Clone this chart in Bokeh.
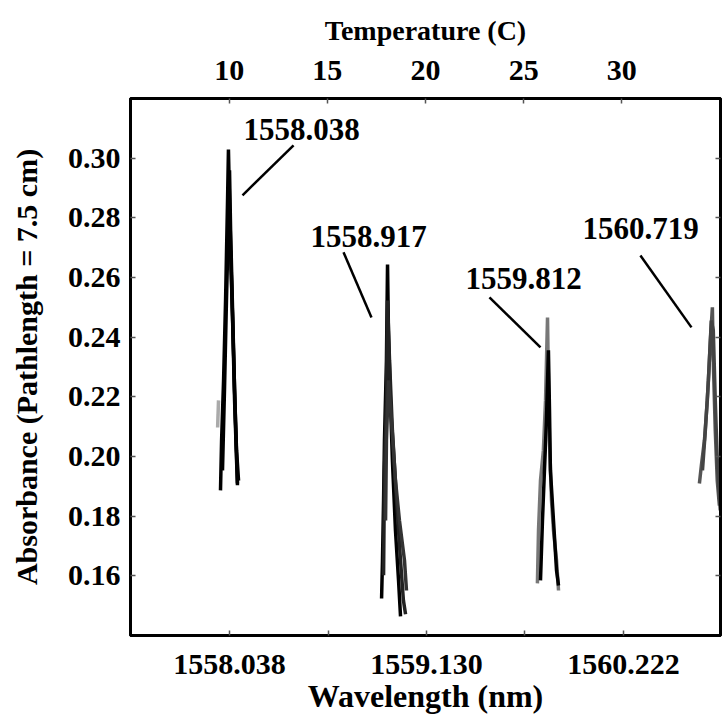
from bokeh.plotting import figure
from bokeh.models import Range1d, LinearAxis, FixedTicker, PrintfTickFormatter, ColumnDataSource
from bokeh.core.properties import value
from bokeh.embed import file_html
from bokeh.resources import INLINE

# ---------------- axis ticks ----------------
wl_ticks = [1558.038, 1559.130, 1560.222]
wl_minor_ticks = [1558.584, 1559.676]
temp_ticks = [10, 15, 20, 25, 30]
abs_ticks = [0.16, 0.18, 0.20, 0.22, 0.24, 0.26, 0.28, 0.30]

# ---------------- traces (wavelength nm, absorbance) ----------------
p1a_wl = [1557.988, 1557.994, 1558.005, 1558.016, 1558.027, 1558.032, 1558.038, 1558.049, 1558.060, 1558.071, 1558.082]
p1a_ab = [0.1886, 0.2054, 0.2255, 0.2523, 0.2859, 0.3030, 0.2859, 0.2591, 0.2356, 0.2121, 0.1909]
p1b_wl = [1557.999, 1558.010, 1558.021, 1558.032, 1558.038, 1558.044, 1558.055, 1558.066, 1558.077, 1558.088]
p1b_ab = [0.1953, 0.2221, 0.2523, 0.2792, 0.2960, 0.2758, 0.2490, 0.2221, 0.2020, 0.1919]
p1c_wl = [1558.044, 1558.055, 1558.066, 1558.077, 1558.082]
p1c_ab = [0.2691, 0.2456, 0.2188, 0.1987, 0.1903]
p1d_wl = [1557.972, 1557.977]
p1d_ab = [0.2097, 0.2188]

p2a_wl = [1558.881, 1558.886, 1558.892, 1558.897, 1558.908, 1558.914, 1558.919, 1558.930, 1558.941, 1558.958, 1558.975, 1558.986]
p2a_ab = [0.1523, 0.1651, 0.1852, 0.2054, 0.2322, 0.2644, 0.2423, 0.2188, 0.1987, 0.1752, 0.1584, 0.1463]
p2b_wl = [1558.892, 1558.897, 1558.908, 1558.914, 1558.925, 1558.941, 1558.964, 1558.986, 1559.002, 1559.014]
p2b_ab = [0.1601, 0.1953, 0.2188, 0.2523, 0.2322, 0.2087, 0.1852, 0.1651, 0.1517, 0.1470]
p2c_wl = [1558.903, 1558.908, 1558.919, 1558.936, 1558.958, 1558.980, 1559.008, 1559.019]
p2c_ab = [0.1785, 0.2054, 0.2255, 0.2121, 0.1919, 0.1785, 0.1651, 0.1550]

p3a_wl = [1559.745, 1559.751, 1559.762, 1559.778, 1559.790, 1559.801, 1559.806, 1559.812, 1559.823, 1559.834, 1559.851, 1559.862]
p3a_ab = [0.1574, 0.1752, 0.1919, 0.2020, 0.2188, 0.2466, 0.2255, 0.2054, 0.1852, 0.1752, 0.1651, 0.1550]
p3b_wl = [1559.762, 1559.773, 1559.784, 1559.795, 1559.806, 1559.812, 1559.817, 1559.834, 1559.851, 1559.862]
p3b_ab = [0.1584, 0.1785, 0.1953, 0.2121, 0.2356, 0.2154, 0.1953, 0.1785, 0.1617, 0.1567]

p4a_wl = [1560.643, 1560.654, 1560.671, 1560.687, 1560.704, 1560.715, 1560.720, 1560.731, 1560.742, 1560.754]
p4a_ab = [0.1909, 0.1970, 0.2054, 0.2188, 0.2389, 0.2500, 0.2322, 0.2087, 0.1919, 0.1835]
p4b_wl = [1560.660, 1560.676, 1560.693, 1560.709, 1560.720, 1560.731, 1560.742, 1560.759]
p4b_ab = [0.1953, 0.2087, 0.2255, 0.2456, 0.2423, 0.2188, 0.1987, 0.1819]

trace_xs = [p1a_wl, p1b_wl, p1c_wl, p1d_wl, p2a_wl, p2b_wl, p2c_wl, p3a_wl, p3b_wl, p4a_wl, p4b_wl]
trace_ys = [p1a_ab, p1b_ab, p1c_ab, p1d_ab, p2a_ab, p2b_ab, p2c_ab, p3a_ab, p3b_ab, p4a_ab, p4b_ab]
trace_colors = ["black", "black", "black", "#aaaaaa", "black", "#222222", "#333333",
                "#777777", "black", "#555555", "#444444"]

# ---------------- peak annotations ----------------
peak_labels = ["1558.038", "1558.917", "1559.812", "1560.719"]
label_wl = [1558.116, 1558.487, 1559.346, 1559.995]
label_ab = [0.3097, 0.2738, 0.2597, 0.2765]
leader_wl0 = [1558.393, 1558.670, 1559.479, 1560.316]
leader_ab0 = [0.3044, 0.2685, 0.2534, 0.2674]
leader_wl1 = [1558.110, 1558.825, 1559.762, 1560.599]
leader_ab1 = [0.2876, 0.2466, 0.2366, 0.2433]

FONT = "Liberation Serif"

p = figure(width=722, height=719,
           x_range=Range1d(1557.489, 1560.760),
           y_range=Range1d(0.1399, 0.3201),
           output_backend="svg", toolbar_location=None,
           min_border_left=130, min_border_right=2,
           min_border_top=98, min_border_bottom=84)
p.extra_x_ranges = {"temp": Range1d(4.97, 35.03)}
p.xgrid.visible = False
p.ygrid.visible = False
p.background_fill_color = "white"
p.border_fill_color = "white"
p.outline_line_color = "black"
p.outline_line_width = 3
p.outline_line_alpha = 1.0

def style_axis(ax, label_size="30px"):
    ax.axis_line_color = "black"
    ax.axis_line_width = 3
    ax.major_tick_in = 5
    ax.major_tick_out = 0
    ax.minor_tick_in = 5
    ax.minor_tick_out = 0
    ax.major_tick_line_color = "#555555"
    ax.minor_tick_line_color = "#555555"
    ax.major_tick_line_width = 1.5
    ax.minor_tick_line_width = 1.5
    ax.major_label_text_font = FONT
    ax.major_label_text_font_style = "bold"
    ax.major_label_text_font_size = label_size
    ax.major_label_text_color = "black"
    ax.axis_label_text_font = FONT
    ax.axis_label_text_font_style = "bold"
    ax.axis_label_text_color = "black"

# bottom axis: wavelength
xa = p.xaxis[0]
style_axis(xa)
xa.ticker = FixedTicker(ticks=wl_ticks, minor_ticks=wl_minor_ticks)
xa.formatter = PrintfTickFormatter(format="%.3f")
xa.axis_label = "Wavelength (nm)"
xa.axis_label_text_font_size = "32px"
xa.major_label_standoff = 19
xa.axis_label_standoff = 1

# left axis: absorbance
ya = p.yaxis[0]
style_axis(ya)
ya.ticker = FixedTicker(ticks=abs_ticks, minor_ticks=[])
ya.formatter = PrintfTickFormatter(format="%.2f")
ya.axis_label = "Absorbance (Pathlength = 7.5 cm)"
ya.axis_label_text_font_size = "30px"
ya.major_label_standoff = 10
ya.axis_label_standoff = 22

# top axis: temperature
ta = LinearAxis(x_range_name="temp")
style_axis(ta)
ta.ticker = FixedTicker(ticks=temp_ticks, minor_ticks=[])
ta.axis_label = "Temperature (C)"
ta.axis_label_text_font_size = "28px"
ta.major_label_standoff = 19
ta.axis_label_standoff = 12
p.add_layout(ta, "above")

# right axis: ticks only
ra = LinearAxis()
style_axis(ra)
ra.ticker = FixedTicker(ticks=abs_ticks, minor_ticks=[])
ra.major_label_overrides = {t: "" for t in abs_ticks}
ra.major_label_standoff = 0
p.add_layout(ra, "right")

# traces
src = ColumnDataSource(dict(xs=trace_xs, ys=trace_ys, color=trace_colors))
p.multi_line(xs="xs", ys="ys", line_color="color", line_width=3.5, source=src)

# leader lines and labels
lsrc = ColumnDataSource(dict(x0=leader_wl0, y0=leader_ab0, x1=leader_wl1, y1=leader_ab1))
p.segment(x0="x0", y0="y0", x1="x1", y1="y1", line_color="black", line_width=2.5, source=lsrc)

tsrc = ColumnDataSource(dict(x=label_wl, y=label_ab, t=peak_labels))
p.text(x="x", y="y", text="t", source=tsrc, text_font=value(FONT), text_font_style="bold",
       text_font_size="31px", text_baseline="middle", text_align="left", text_color="black")

open("out.html", "w").write(file_html(p, INLINE))
